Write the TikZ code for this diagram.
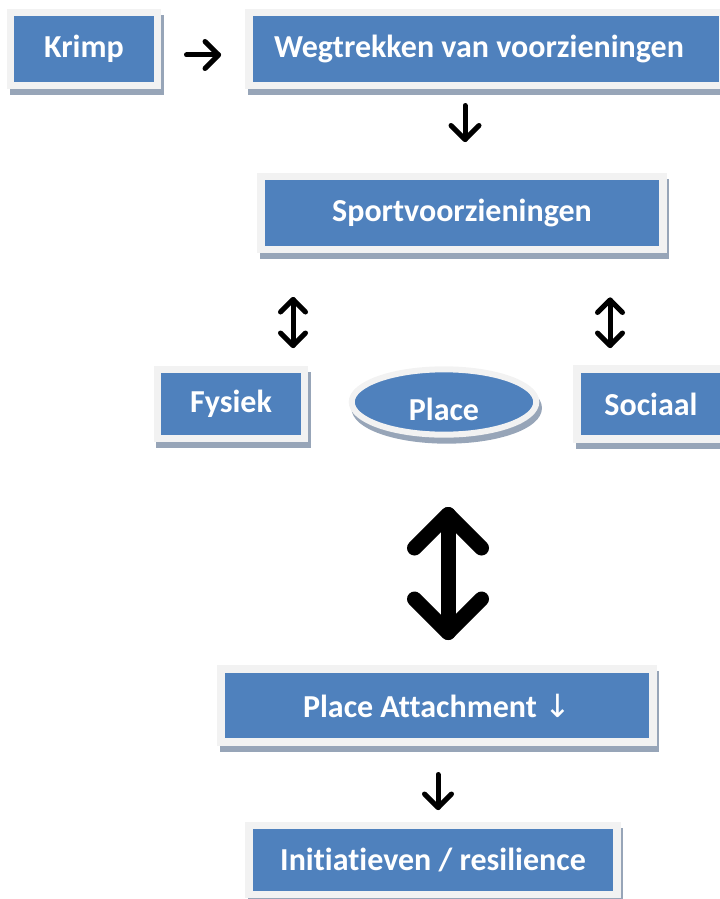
\documentclass[tikz,border=0pt]{standalone}
\usepackage{fontspec}
\setmainfont{Carlito}[Ligatures=NoCommon]
\newfontfamily\pijlfont{DejaVu Sans}
\usetikzlibrary{calc,shapes.geometric}

\definecolor{boxblue}{HTML}{4F81BD}
\definecolor{framegray}{HTML}{F2F2F2}
\definecolor{shadegray}{HTML}{97A5B8}

\tikzset{
  blokje/.style={rectangle, fill=boxblue, draw=framegray, line width=5.6pt,
    text=white, font=\bfseries\fontsize{24}{28}\selectfont, inner sep=0pt,
    preaction={draw=shadegray, fill=shadegray, transform canvas={xshift=2pt, yshift=-4.5pt}}},
  ovaal/.style={blokje, ellipse, line width=4.5pt},
  steel/.style={line width=3.75pt, line cap=round, line join=round},
  dikkesteel/.style={line width=11.25pt, line cap=round, line join=round}
}

\begin{document}
\begin{tikzpicture}[x=0.75pt,y=-0.75pt]
\useasboundingbox (0,0) rectangle (720,899);

\node[blokje, minimum width=110pt, minimum height=55pt] (nKrimp) at (84,49) {Krimp};
\node[blokje, minimum width=355.5pt, minimum height=55pt] (nWeg) at (486,49) {Wegtrekken van voorzieningen\hspace*{10.5pt}};
\node[blokje, minimum width=301.5pt, minimum height=55pt] (nSport) at (462,213) {Sportvoorzieningen};
\node[blokje, minimum width=110.6pt, minimum height=52pt] (nFysiek) at (231,404) {Fysiek};
\node[ovaal, minimum width=138.4pt, minimum height=49pt, text height=28pt] (nPlace) at (444,402) {Place};
\node[blokje, minimum width=111pt, minimum height=52.5pt] (nSociaal) at (651,404) {Sociaal};
\node[blokje, minimum width=324pt, minimum height=55pt] (nAttach) at (437,705.5) {Place Attachment {\pijlfont\mdseries ↓}};
\node[blokje, minimum width=276pt, minimum height=52pt] (nInit) at (433,860) {Initiatieven / resilience};

% begin- en eindpunten van de pijlen
\coordinate (cKrimpAPt) at (186.5,55);
\coordinate (cKrimpBPt) at (218.5,55);
\coordinate (cWegAPt) at (465,105.5);
\coordinate (cWegBPt) at (465,139.5);
\coordinate (cFysAPt) at (293,299.5);
\coordinate (cFysBPt) at (293,345.5);
\coordinate (cSocAPt) at (610,300);
\coordinate (cSocBPt) at (610,345.5);
\coordinate (cPlaceAPt) at (448,514.5);
\coordinate (cPlaceBPt) at (448,632.5);
\coordinate (cAttAPt) at (438,774.5);
\coordinate (cAttBPt) at (438,807.5);

\foreach \a/\b/\s in
{   cKrimpAPt/cKrimpBPt/steel,
    cWegAPt/cWegBPt/steel,
    cFysAPt/cFysBPt/steel,
    cSocAPt/cSocBPt/steel,
    cPlaceAPt/cPlaceBPt/dikkesteel,
    cAttAPt/cAttBPt/steel}
{
    \draw[\s] (\a) -- (\b);
};

% punten: richting (dx,dy) en grootte h
\foreach \p/\dx/\dy/\h/\s in
{   cKrimpBPt/1/0/13.5/steel,
    cWegBPt/0/1/14/steel,
    cFysAPt/0/-1/12.5/steel,
    cFysBPt/0/1/12.5/steel,
    cSocAPt/0/-1/12.5/steel,
    cSocBPt/0/1/12.5/steel,
    cPlaceAPt/0/-1/33.5/dikkesteel,
    cPlaceBPt/0/1/33.5/dikkesteel,
    cAttBPt/0/1/13.5/steel}
{
    \draw[\s] ($(\p)+({-\h*\dx-\h*\dy},{-\h*\dy+\h*\dx})$) -- (\p)
        -- ($(\p)+({-\h*\dx+\h*\dy},{-\h*\dy-\h*\dx})$);
};
\end{tikzpicture}
\end{document}
